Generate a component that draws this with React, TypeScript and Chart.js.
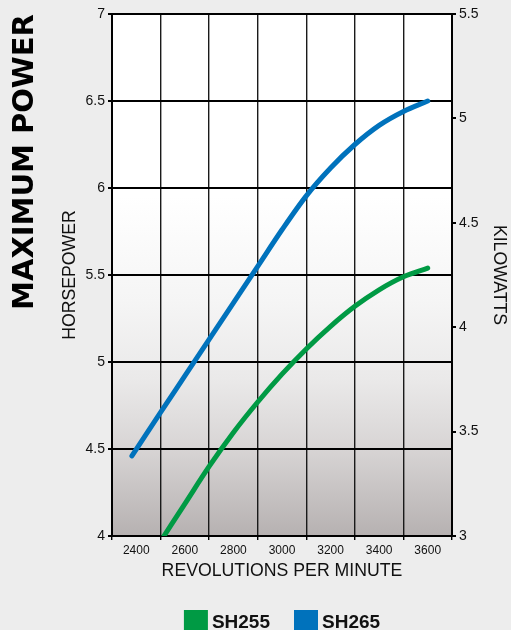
import React, { useEffect, useRef } from "react";
import { Chart, registerables } from "chart.js";

Chart.register(...registerables);

// ---- Data ----
const rpmSH265 = [2382, 2500, 2600, 2700, 2800, 2900, 3000, 3100, 3200, 3300, 3400, 3500, 3600];
const hpSH265 = [4.46, 4.71, 4.92, 5.13, 5.34, 5.55, 5.76, 5.955, 6.115, 6.25, 6.36, 6.44, 6.5];
const rpmSH255 = [2514, 2600, 2700, 2800, 2900, 3000, 3100, 3200, 3300, 3400, 3500, 3600];
const hpSH255 = [4.0, 4.185, 4.4, 4.595, 4.77, 4.93, 5.075, 5.205, 5.32, 5.415, 5.49, 5.54];

const rpmTickLabels = [2400, 2600, 2800, 3000, 3200, 3400, 3600];
const rpmGridLines = [2300, 2500, 2700, 2900, 3100, 3300, 3500, 3700];
const hpRange = [4, 7];
const kwRange = [3, 5.5];
const tickStep = 0.5;

const seriesNames = ["SH255", "SH265"];
const seriesColors = ["#009a44", "#0072bc"];

const chartTitle = "MAXIMUM POWER";
const xTitle = "REVOLUTIONS PER MINUTE";
const yTitle = "HORSEPOWER";
const y2Title = "KILOWATTS";

const FONT = '"Liberation Sans", Arial, sans-serif';

const plotBackground = {
  id: "plotBackground",
  beforeDraw(chart: any) {
    const { ctx, chartArea: a } = chart;
    const g = ctx.createLinearGradient(0, a.top, 0, a.bottom);
    g.addColorStop(0, "#ffffff");
    g.addColorStop(0.35, "#ffffff");
    g.addColorStop(0.55, "#f5f5f5");
    g.addColorStop(0.7, "#eae9e9");
    g.addColorStop(0.83, "#d8d5d5");
    g.addColorStop(1, "#b6b1b1");
    ctx.save();
    ctx.fillStyle = g;
    ctx.fillRect(a.left, a.top, a.right - a.left, a.bottom - a.top);
    ctx.restore();
  },
};

const decorations = {
  id: "decorations",
  afterDraw(chart: any) {
    const { ctx, chartArea: a } = chart;
    // Vertical chart title
    ctx.save();
    ctx.font = 'bold 29px "DejaVu Sans", sans-serif';
    ctx.fillStyle = "#000";
    ctx.textAlign = "center";
    ctx.textBaseline = "alphabetic";
    ctx.translate(33, 162);
    ctx.rotate(-Math.PI / 2);
    ctx.fillText(chartTitle, 0, 0);
    ctx.restore();

    // Legend
    ctx.save();
    ctx.font = `bold 19px ${FONT}`;
    ctx.textAlign = "left";
    ctx.textBaseline = "alphabetic";
    const box = 24;
    const gap = 4;
    const itemGap = 24;
    const widths = seriesNames.map((n) => ctx.measureText(n).width);
    let total = 0;
    widths.forEach((w, i) => {
      total += box + gap + w + (i < widths.length - 1 ? itemGap : 0);
    });
    let x = (a.left + a.right) / 2 - total / 2;
    const boxTop = 610;
    seriesNames.forEach((n, i) => {
      ctx.fillStyle = seriesColors[i];
      ctx.fillRect(x, boxTop, box, box);
      ctx.fillStyle = "#111";
      ctx.fillText(n, x + box + gap, 628);
      x += box + gap + widths[i] + itemGap;
    });
    ctx.restore();
  },
};

const fmt = (v: any) => String(Number(v));

export default function App() {
  const ref = useRef<HTMLCanvasElement | null>(null);

  useEffect(() => {
    if (!ref.current) return;
    const allXTicks = [...rpmGridLines, ...rpmTickLabels].sort((p, q) => p - q);
    const chart = new Chart(ref.current, {
      type: "line",
      data: {
        datasets: [
          {
            label: seriesNames[0],
            data: rpmSH255.map((r, i) => ({ x: r, y: hpSH255[i] })),
            borderColor: seriesColors[0],
            backgroundColor: seriesColors[0],
            borderWidth: 5,
            pointRadius: 0,
            cubicInterpolationMode: "monotone",
            borderCapStyle: "round",
            fill: false,
            xAxisID: "x",
            yAxisID: "y",
          },
          {
            label: seriesNames[1],
            data: rpmSH265.map((r, i) => ({ x: r, y: hpSH265[i] })),
            borderColor: seriesColors[1],
            backgroundColor: seriesColors[1],
            borderWidth: 5,
            pointRadius: 0,
            cubicInterpolationMode: "monotone",
            borderCapStyle: "round",
            fill: false,
            xAxisID: "x",
            yAxisID: "y",
          },
        ],
      },
      options: {
        responsive: false,
        animation: false,
        devicePixelRatio: 1,
        layout: { padding: { top: 14, bottom: 44, left: 0, right: 0 } },
        plugins: {
          legend: { display: false },
          title: { display: false },
          tooltip: { enabled: false },
        },
        scales: {
          x: {
            type: "linear",
            min: rpmGridLines[0],
            max: rpmGridLines[rpmGridLines.length - 1],
            afterBuildTicks: (s: any) => {
              s.ticks = allXTicks.map((v) => ({ value: v }));
            },
            afterFit: (s: any) => {
              s.height = 50;
            },
            grid: {
              color: (c: any) => (rpmGridLines.includes(c.tick?.value) ? "#1a1a1a" : "rgba(0,0,0,0)"),
              tickColor: (c: any) => (rpmGridLines.includes(c.tick?.value) ? "#000" : "rgba(0,0,0,0)"),
              lineWidth: 1.4,
              tickLength: 4,
            },
            border: { display: true, color: "#000", width: 2 },
            ticks: {
              autoSkip: false,
              maxRotation: 0,
              minRotation: 0,
              padding: 3,
              color: "#111",
              font: { family: FONT, size: 12 },
              callback: (v: any) => (rpmTickLabels.includes(Number(v)) ? String(v) : ""),
            },
            title: {
              display: true,
              text: xTitle,
              color: "#111",
              font: { family: FONT, size: 17.7 },
              padding: { top: 0, bottom: 4 },
            },
          },
          y: {
            type: "linear",
            position: "left",
            min: hpRange[0],
            max: hpRange[1],
            ticks: {
              stepSize: tickStep,
              padding: 3,
              color: "#111",
              font: { family: FONT, size: 14 },
              callback: fmt,
            },
            afterFit: (s: any) => {
              s.width = 112;
            },
            grid: { color: "#000", lineWidth: 2, tickLength: 4 },
            border: { display: true, color: "#000", width: 2 },
            title: {
              display: true,
              text: yTitle,
              color: "#111",
              font: { family: FONT, size: 17.7 },
              padding: { top: 59, bottom: 0 },
            },
          },
          y2: {
            type: "linear",
            position: "right",
            min: kwRange[0],
            max: kwRange[1],
            ticks: {
              stepSize: tickStep,
              padding: 3,
              color: "#111",
              font: { family: FONT, size: 14 },
              callback: fmt,
            },
            afterFit: (s: any) => {
              s.width = 59;
            },
            grid: { drawOnChartArea: false, color: "#000", lineWidth: 2, tickLength: 4 },
            border: { display: true, color: "#000", width: 2 },
            title: {
              display: true,
              text: y2Title,
              color: "#111",
              font: { family: FONT, size: 17.7 },
              padding: { top: 1, bottom: 0 },
            },
          },
        },
      } as any,
      plugins: [plotBackground, decorations],
    });
    return () => chart.destroy();
  }, []);

  return (
    <div
      style={{
        position: "absolute",
        left: 0,
        top: 0,
        width: 511,
        height: 630,
        background: "#ededed",
        overflow: "hidden",
      }}
    >
      <canvas ref={ref} width={511} height={630} style={{ display: "block" }} />
    </div>
  );
}
